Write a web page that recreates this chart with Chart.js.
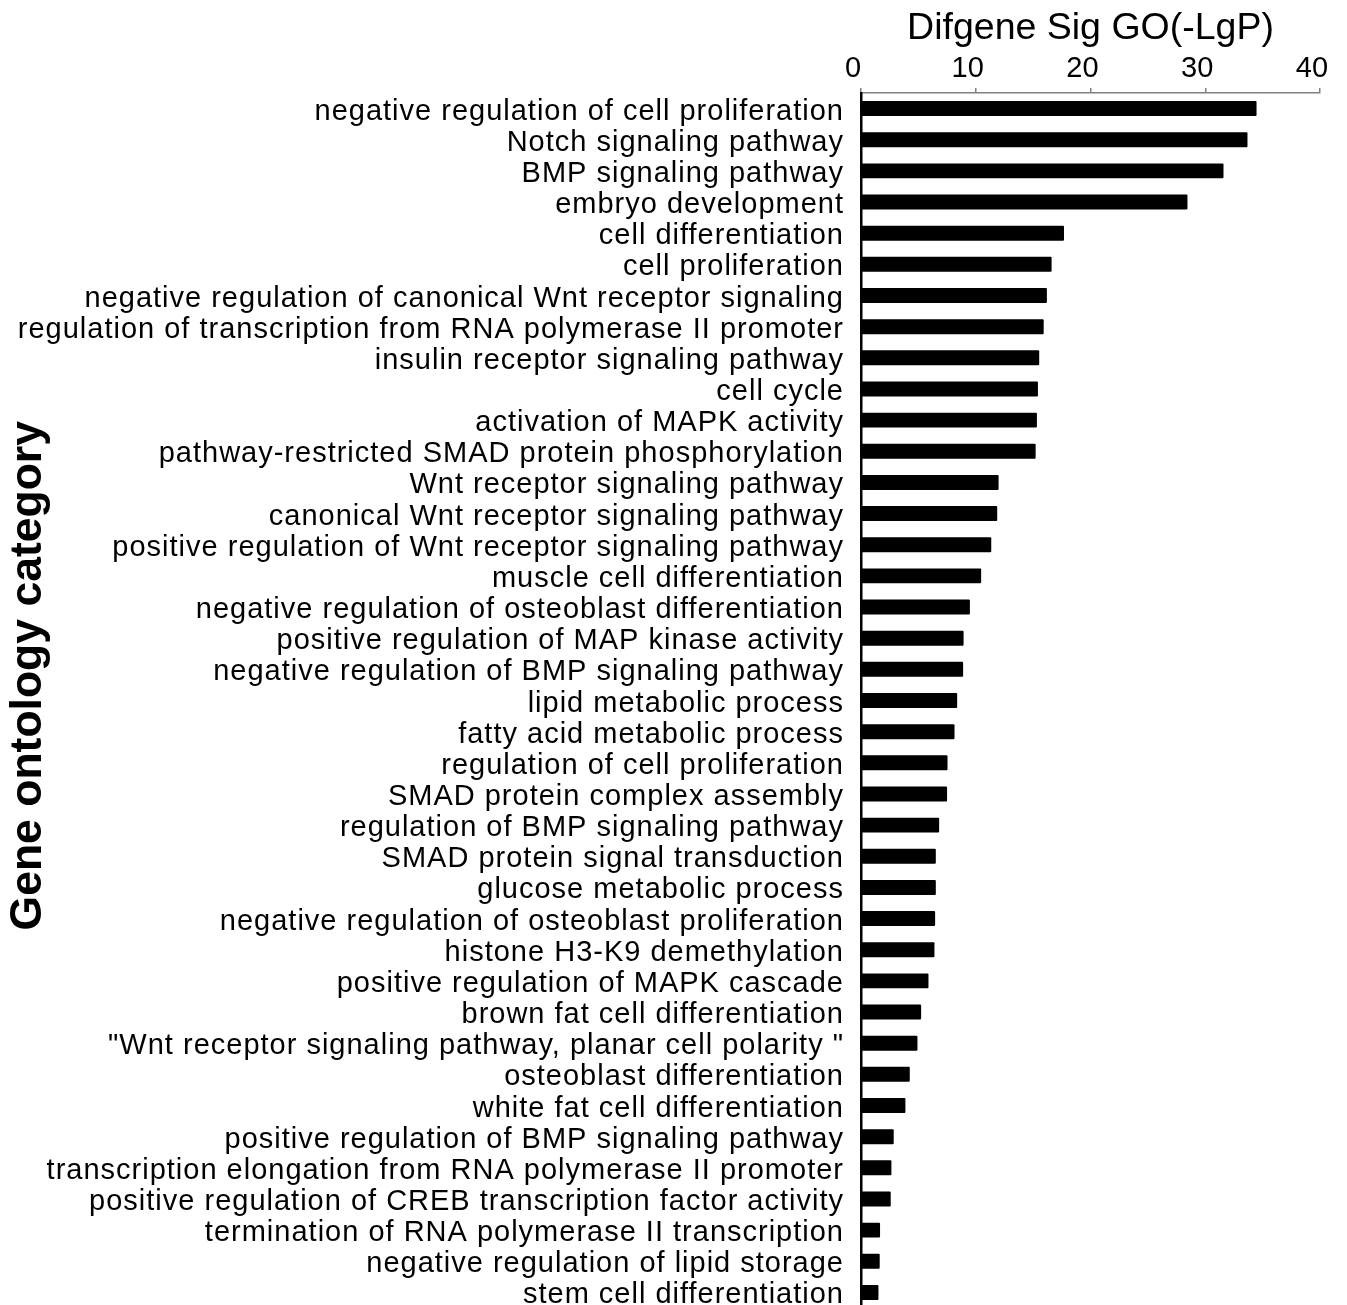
<!DOCTYPE html>
<html>
<head>
<meta charset="utf-8">
<script src="https://cdn.jsdelivr.net/npm/chart.js@4/dist/chart.umd.min.js"></script>
<style>
html,body{margin:0;padding:0;background:#fff;overflow:hidden;}
canvas{display:block;}
</style>
</head>
<body>
<canvas id="c" width="1347" height="1310" style="width:1347px;height:1310px"></canvas>
<script>
const categories = [
  "negative regulation of cell proliferation",
  "Notch signaling pathway",
  "BMP signaling pathway",
  "embryo development",
  "cell differentiation",
  "cell proliferation",
  "negative regulation of canonical Wnt receptor signaling",
  "regulation of transcription from RNA polymerase II promoter",
  "insulin receptor signaling pathway",
  "cell cycle",
  "activation of MAPK activity",
  "pathway-restricted SMAD protein phosphorylation",
  "Wnt receptor signaling pathway",
  "canonical Wnt receptor signaling pathway",
  "positive regulation of Wnt receptor signaling pathway",
  "muscle cell differentiation",
  "negative regulation of osteoblast differentiation",
  "positive regulation of MAP kinase activity",
  "negative regulation of BMP signaling pathway",
  "lipid metabolic process",
  "fatty acid metabolic process",
  "regulation of cell proliferation",
  "SMAD protein complex assembly",
  "regulation of BMP signaling pathway",
  "SMAD protein signal transduction",
  "glucose metabolic process",
  "negative regulation of osteoblast proliferation",
  "histone H3-K9 demethylation",
  "positive regulation of MAPK cascade",
  "brown fat cell differentiation",
  "\"Wnt receptor signaling pathway, planar cell polarity \"",
  "osteoblast differentiation",
  "white fat cell differentiation",
  "positive regulation of BMP signaling pathway",
  "transcription elongation from RNA polymerase II promoter",
  "positive regulation of CREB transcription factor activity",
  "termination of RNA polymerase II transcription",
  "negative regulation of lipid storage",
  "stem cell differentiation"
];
const sigValues = [
  34.47, 33.68, 31.59, 28.45, 17.69, 16.61, 16.2, 15.92, 15.53, 15.42,
  15.33, 15.22, 11.99, 11.87, 11.35, 10.47, 9.49, 8.94, 8.9, 8.38,
  8.15, 7.54, 7.5, 6.81, 6.52, 6.52, 6.46, 6.4, 5.88, 5.24,
  4.92, 4.25, 3.87, 2.85, 2.65, 2.59, 1.66, 1.63, 1.52
];
const xTicks = [0, 10, 20, 30, 40];
const xTitle = "Difgene Sig GO(-LgP)";
const yTitle = "Gene ontology category";

const FONT = "'Liberation Sans', Arial, Helvetica, sans-serif";

new Chart(document.getElementById('c'), {
  type: 'bar',
  data: {
    labels: categories,
    datasets: [{
      data: sigValues,
      backgroundColor: '#000',
      borderWidth: 0,
      borderRadius: 1,
      barPercentage: 0.96,
      categoryPercentage: 0.5
    }]
  },
  options: {
    indexAxis: 'y',
    responsive: false,
    animation: false,
    devicePixelRatio: 1,
    layout: { padding: { top: 0, right: 27, bottom: 2, left: 0 } },
    plugins: { legend: { display: false }, tooltip: { enabled: false } },
    scales: {
      x: {
        position: 'top',
        min: xTicks[0],
        max: xTicks[xTicks.length - 1],
        afterBuildTicks: (s) => { s.ticks = xTicks.map(v => ({ value: v })); },
        afterFit: (s) => { s.height = 93; s.paddingTop = 0; s.paddingBottom = 0; },
        ticks: {
          color: '#000',
          font: { family: FONT, size: 29 },
          padding: 2,
          labelOffset: -8,
          maxRotation: 0
        },
        grid: { drawOnChartArea: false, drawTicks: true, tickLength: 5, color: '#808080', lineWidth: 1.5 },
        border: { color: '#808080', width: 1.5 },
        title: {
          display: true,
          text: xTitle,
          color: '#000',
          font: { family: FONT, size: 37.5 },
          padding: { top: 6, bottom: 0 }
        }
      },
      y: {
        afterFit: (s) => { s.width = 861; s.paddingTop = 0; s.paddingBottom = 0; },
        afterUpdate: (s) => {
          if (s._lsPatched) return;
          s._lsPatched = true;
          const orig = s.drawLabels;
          s.drawLabels = function (area) {
            const ctx = this.ctx;
            ctx.save();
            ctx.letterSpacing = '1px';
            orig.call(this, area);
            ctx.restore();
          };
        },
        ticks: {
          color: '#000',
          font: { family: FONT, size: 29 },
          padding: 17,
          labelOffset: 3,
          autoSkip: false
        },
        grid: { drawOnChartArea: false, drawTicks: false },
        border: { color: '#000', width: 2.5 },
        title: {
          display: true,
          text: '    ' + yTitle,
          color: '#000',
          font: { family: FONT, size: 44.5, weight: 'bold' },
          padding: { top: 2, bottom: 0 }
        }
      }
    }
  }
});
</script>
</body>
</html>
